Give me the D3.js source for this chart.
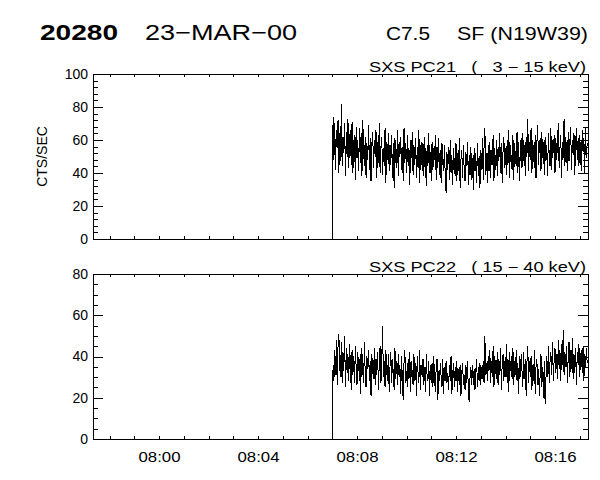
<!DOCTYPE html>
<html lang="en">
<head>
<meta charset="utf-8">
<script src="https://d3js.org/d3.v7.min.js"></script>
<style>
  body { margin: 0; background: #fff; }
  text { font-family: "Liberation Sans", Arial, sans-serif; fill: #000; }
</style>
</head>
<body>
<div id="chart"></div>
<script>

// ---- data ----
var startTime = "2000-03-23T08:07:00Z";   // first sample
var cadence = 2;                          // seconds between samples
var timeRange = ["2000-03-23T07:57:20Z", "2000-03-23T08:17:20Z"];

// SXS PC21 (3 - 15 keV), counts/sec
var pc21 = [
  0, 74, 48, 70, 42, 66, 55, 72, 40, 64,
  47, 82, 44, 62, 52, 70, 38, 65, 50, 73,
  43, 61, 66, 45, 71, 40, 58, 63, 36, 68,
  49, 60, 41, 67, 46, 64, 38, 72, 53, 44,
  62, 37, 58, 48, 69, 42, 61, 35, 57, 65,
  43, 60, 50, 66, 37, 59, 46, 70, 40, 56,
  62, 39, 55, 44, 67, 34, 59, 48, 64, 41,
  57, 45, 63, 37, 58, 31, 61, 47, 43, 66,
  38, 59, 50, 62, 42, 56, 35, 67, 46, 58,
  40, 63, 44, 55, 33, 60, 49, 65, 39, 57,
  45, 61, 37, 56, 43, 66, 34, 54, 59, 41,
  58, 38, 62, 46, 32, 57, 44, 64, 40, 53,
  35, 59, 42, 55, 48, 63, 36, 56, 43, 61,
  39, 54, 34, 58, 46, 41, 57, 37, 28, 53,
  42, 56, 36, 60, 40, 51, 33, 55, 45, 38,
  58, 35, 52, 41, 61, 31, 48, 54, 37, 57,
  40, 35, 53, 44, 59, 33, 51, 39, 56, 36,
  49, 30, 55, 41, 52, 34, 58, 38, 50, 31,
  54, 42, 61, 36, 56, 67, 39, 52, 34, 57,
  41, 59, 37, 54, 45, 63, 35, 55, 42, 60,
  38, 56, 47, 64, 40, 58, 34, 53, 62, 43,
  55, 39, 60, 45, 66, 37, 57, 48, 42, 63,
  36, 58, 49, 44, 65, 40, 59, 35, 56, 61,
  43, 64, 47, 57, 38, 62, 50, 73, 41, 59,
  48, 67, 40, 60, 51, 43, 63, 37, 58, 69,
  45, 56, 61, 41, 65, 49, 59, 39, 62, 47,
  57, 38, 64, 50, 44, 67, 42, 60, 52, 63,
  40, 61, 48, 58, 70, 43, 55, 63, 37, 59,
  49, 73, 44, 62, 52, 41, 65, 47, 59, 68,
  42, 60, 51, 64, 39, 58, 67, 48, 61, 44,
  63, 50, 41, 66, 53, 61, 40, 67, 49, 58
];

// SXS PC22 (15 - 40 keV), counts/sec
var pc22 = [
  0, 36, 28, 43, 31, 48, 26, 45, 51, 35,
  30, 47, 27, 42, 33, 50, 25, 44, 32, 41,
  28, 46, 36, 24, 43, 31, 40, 27, 45, 34,
  26, 42, 33, 39, 22, 44, 30, 41, 27, 47,
  31, 25, 40, 34, 43, 28, 38, 21, 41, 33,
  29, 44, 26, 39, 31, 42, 24, 37, 45, 27,
  38, 55, 30, 38, 25, 43, 33, 28, 41, 23,
  35, 42, 27, 39, 31, 24, 44, 29, 38, 26,
  41, 30, 36, 22, 40, 28, 19, 37, 43, 27,
  33, 25, 39, 29, 42, 23, 38, 31, 26, 41,
  28, 37, 21, 40, 32, 27, 43, 24, 36, 30,
  39, 26, 35, 23, 41, 30, 28, 38, 21, 36,
  27, 37, 25, 40, 29, 23, 35, 39, 19, 33,
  28, 37, 30, 25, 39, 22, 35, 28, 38, 27,
  32, 24, 36, 28, 40, 22, 31, 37, 25, 35,
  28, 38, 23, 34, 26, 36, 21, 32, 37, 26,
  31, 24, 36, 27, 38, 22, 18, 30, 35, 26,
  36, 26, 34, 24, 33, 39, 25, 35, 28, 37,
  26, 35, 29, 38, 27, 50, 31, 37, 28, 40,
  33, 43, 27, 38, 30, 45, 25, 40, 34, 29,
  42, 26, 39, 31, 44, 24, 37, 41, 28, 38,
  30, 46, 27, 39, 23, 42, 33, 40, 29, 44,
  26, 38, 31, 43, 28, 37, 22, 40, 30, 41,
  33, 25, 42, 29, 39, 21, 37, 45, 27, 38,
  30, 40, 24, 36, 28, 43, 22, 35, 39, 26,
  34, 21, 31, 41, 25, 35, 20, 38, 17, 29,
  40, 30, 45, 27, 38, 42, 31, 47, 28, 39,
  44, 32, 41, 29, 48, 34, 43, 28, 46, 36,
  53, 31, 42, 35, 45, 27, 40, 47, 30, 43,
  34, 49, 29, 41, 32, 44, 26, 42, 36, 46,
  30, 40, 43, 32, 45, 28, 41, 35, 44, 37
];

var yTicks21 = [0, 20, 40, 60, 80, 100];
var yTicks22 = [0, 20, 40, 60, 80];
var xTickLabels = ["08:00", "08:04", "08:08", "08:12", "08:16"];

// ---- layout ----
var W = 600, H = 480;
var left = 93, right = 588, panelH = 165;

var svg = d3.select("#chart")
  .append("svg")
  .attr("width", W)
  .attr("height", H)
  .style("display", "block");

svg.append("rect").attr("width", W).attr("height", H).attr("fill", "#fff");

// Header
svg.append("text")
  .attr("x", 40).attr("y", 40)
  .attr("textLength", 78).attr("lengthAdjust", "spacingAndGlyphs")
  .style("font-size", "22px").style("font-weight", "bold")
  .text("20280");
svg.append("text")
  .attr("x", 145).attr("y", 40)
  .attr("textLength", 152).attr("lengthAdjust", "spacingAndGlyphs")
  .style("font-size", "22px")
  .text("23\u2212MAR\u221200");
svg.append("text")
  .attr("x", 386).attr("y", 40)
  .attr("textLength", 44).attr("lengthAdjust", "spacingAndGlyphs")
  .style("font-size", "18px")
  .text("C7.5");
svg.append("text")
  .attr("x", 457).attr("y", 40)
  .attr("textLength", 131).attr("lengthAdjust", "spacingAndGlyphs")
  .style("font-size", "18px")
  .text("SF (N19W39)");

var parseHM = d3.utcParse("%Y-%m-%d %H:%M");
var x = d3.scaleUtc()
  .domain(timeRange.map(function (d) { return new Date(d); }))
  .range([left, right]);

var t0 = new Date(startTime).getTime();
function toPoints(values) {
  return values.map(function (v, i) {
    return { t: new Date(t0 + i * cadence * 1000), v: v };
  });
}

var panels = [
  { title: "SXS PC21   (   3 \u2212 15 keV)", values: pc21, yMax: 100, ticks: yTicks21, minor: 4, top: 74, xLabels: false, ylab: true },
  { title: "SXS PC22   ( 15 \u2212 40 keV)", values: pc22, yMax: 80, ticks: yTicks22, minor: 5, top: 274, xLabels: true, ylab: false }
];

var minuteTicks = d3.utcMinute.every(1).range(x.domain()[0], x.domain()[1]);
var labelDates = xTickLabels.map(function (s) { return parseHM("2000-03-23 " + s); });

panels.forEach(function (p, k) {
  var y = d3.scaleLinear().domain([0, p.yMax]).range([p.top + panelH, p.top]);
  var g = svg.append("g").attr("class", "panel" + k);

  var minorTicks = d3.range(0, p.yMax + 0.001, p.minor);

  // clip for the data
  svg.append("clipPath").attr("id", "clip" + k)
    .append("rect")
    .attr("x", left).attr("y", p.top)
    .attr("width", right - left).attr("height", panelH);

  // data line
  var line = d3.line()
    .x(function (d) { return x(d.t); })
    .y(function (d) { return y(d.v); });

  g.append("path")
    .datum(toPoints(p.values))
    .attr("clip-path", "url(#clip" + k + ")")
    .attr("fill", "none")
    .attr("stroke", "#000")
    .attr("stroke-width", 1)
    .attr("shape-rendering", "crispEdges")
    .attr("d", line);

  // left axis: minor + major
  g.append("g").attr("transform", "translate(" + left + ",0)")
    .call(d3.axisRight(y).tickValues(minorTicks).tickSize(5).tickFormat(""));
  g.append("g").attr("transform", "translate(" + left + ",0)")
    .call(d3.axisRight(y).tickValues(p.ticks).tickSize(10).tickFormat(""));
  g.append("g").attr("transform", "translate(" + left + ",0)")
    .call(d3.axisLeft(y).tickValues(p.ticks).tickSize(0).tickPadding(5))
    .call(function (a) { a.select(".domain").remove(); });

  // right axis
  g.append("g").attr("transform", "translate(" + right + ",0)")
    .call(d3.axisLeft(y).tickValues(minorTicks).tickSize(5).tickFormat(""));
  g.append("g").attr("transform", "translate(" + right + ",0)")
    .call(d3.axisLeft(y).tickValues(p.ticks).tickSize(10).tickFormat(""));

  // top and bottom axes
  g.append("g").attr("transform", "translate(0," + p.top + ")")
    .call(d3.axisBottom(x).tickValues(minuteTicks).tickSize(3).tickFormat(""));
  g.append("g").attr("transform", "translate(0," + (p.top + panelH) + ")")
    .call(d3.axisTop(x).tickValues(minuteTicks).tickSize(3).tickFormat(""));

  if (p.xLabels) {
    g.append("g").attr("class", "xlab").attr("transform", "translate(0," + (p.top + panelH) + ")")
      .call(d3.axisBottom(x).tickValues(labelDates).tickSize(0).tickPadding(13)
        .tickFormat(d3.utcFormat("%H:%M")))
      .call(function (a) { a.select(".domain").remove(); });
  }

  // frame
  g.append("rect")
    .attr("x", left).attr("y", p.top)
    .attr("width", right - left).attr("height", panelH)
    .attr("fill", "none").attr("stroke", "#000").attr("stroke-width", 1);

  // panel title
  g.append("text")
    .attr("x", 369).attr("y", p.top - 2)
    .attr("textLength", 217).attr("lengthAdjust", "spacingAndGlyphs")
    .style("font-size", "14px")
    .style("white-space", "pre")
    .text(p.title);

  if (p.ylab) {
    g.append("text")
      .attr("transform", "translate(47," + (p.top + panelH / 2) + ") rotate(-90)")
      .attr("text-anchor", "middle")
      .style("font-size", "14px")
      .text("CTS/SEC");
  }
});

svg.selectAll(".tick text")
  .style("font-family", "'Liberation Sans', Arial, sans-serif")
  .style("font-size", "14px")
  .attr("fill", "#000");
svg.selectAll(".xlab .tick text")
  .attr("textLength", 42).attr("lengthAdjust", "spacingAndGlyphs");
svg.selectAll(".domain").attr("stroke", "none");
svg.selectAll(".tick line").attr("stroke", "#000").attr("shape-rendering", "crispEdges");
svg.selectAll("rect").attr("shape-rendering", "crispEdges");

</script>
</body>
</html>
